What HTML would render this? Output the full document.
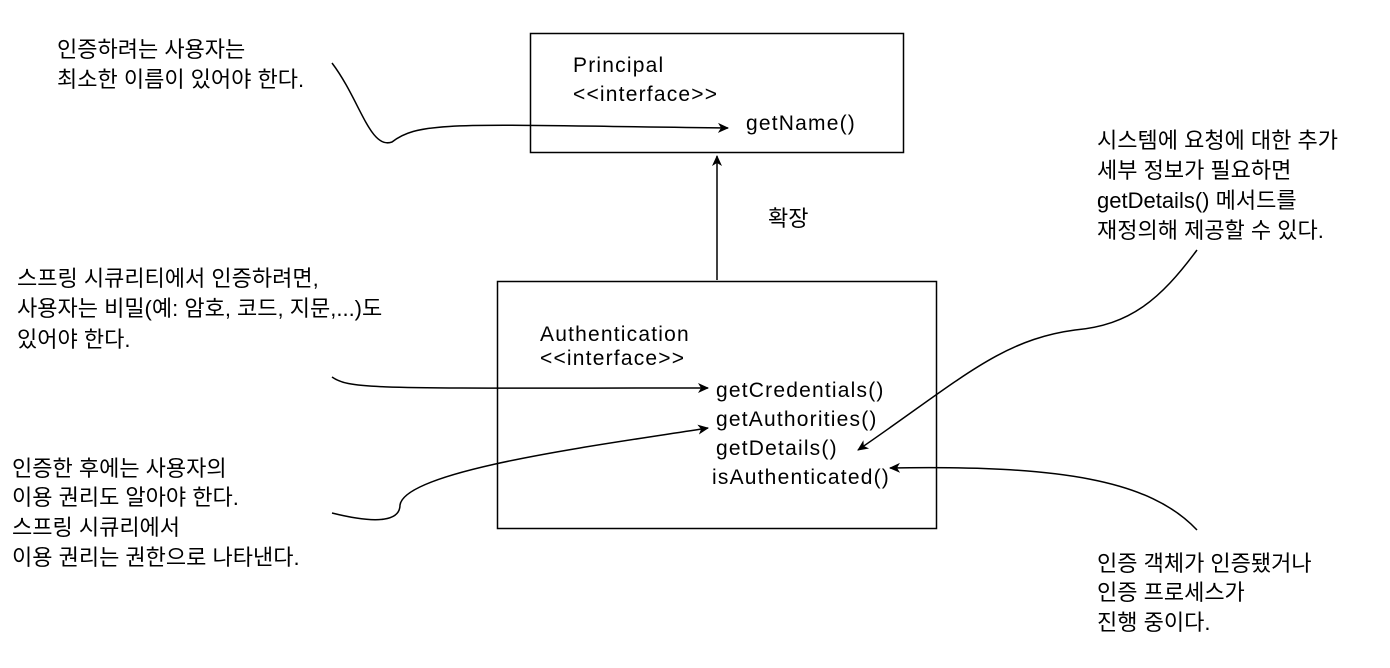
<!DOCTYPE html>
<html><head><meta charset="utf-8"><style>
html,body{margin:0;padding:0;background:#fff;}
svg{display:block;}
text{font-family:"Liberation Sans","Noto Sans CJK KR",sans-serif;font-size:22px;fill:#000;}
text.en{font-size:21px;letter-spacing:1.2px;}
</style></head><body>
<svg width="1390" height="668" viewBox="0 0 1390 668" xmlns="http://www.w3.org/2000/svg">
<defs><marker id="a" markerWidth="12" markerHeight="12" refX="10" refY="6" orient="auto" markerUnits="userSpaceOnUse"><path d="M0,1 L11,6 L0,11 L3,6 Z" fill="#000"/></marker></defs>
<rect x="530.5" y="33.5" width="373" height="119" fill="#fff" stroke="#000" stroke-width="1.5"/>
<text class="en" x="573" y="72">Principal</text>
<text class="en" x="573" y="101">&lt;&lt;interface&gt;&gt;</text>
<text class="en" x="746" y="130">getName()</text>
<rect x="497.5" y="281.5" width="439" height="247" fill="#fff" stroke="#000" stroke-width="1.5"/>
<text class="en" x="540" y="341">Authentication</text>
<text class="en" x="540" y="365">&lt;&lt;interface&gt;&gt;</text>
<text class="en" x="716" y="397">getCredentials()</text>
<text class="en" x="716" y="426">getAuthorities()</text>
<text class="en" x="716" y="455">getDetails()</text>
<text class="en" x="712" y="484">isAuthenticated()</text>
<line x1="717" y1="280" x2="717" y2="156" stroke="#000" stroke-width="1.5" marker-end="url(#a)"/>
<text x="768" y="226">확장</text>
<g fill="none" stroke="#000" stroke-width="1.5">
<path d="M332,63 C360,100 370,150 392,142 C420,120 460,125 728,128" marker-end="url(#a)"/>
<path d="M332,377 C350,390 380,388 708,388" marker-end="url(#a)"/>
<path d="M332,513 C380,525 400,520 400,505 C405,470 600,445 708,428" marker-end="url(#a)"/>
<path d="M1197,250 C1160,300 1130,325 1075,330 C1000,340 960,380 858,450" marker-end="url(#a)"/>
<path d="M1197,530 C1150,480 1060,465 890,468" marker-end="url(#a)"/>
</g>
<text x="57" y="57">인증하려는 사용자는</text>
<text x="57" y="87">최소한 이름이 있어야 한다.</text>
<text x="17" y="286">스프링 시큐리티에서 인증하려면,</text>
<text x="17" y="316">사용자는 비밀(예: 암호, 코드, 지문,...)도</text>
<text x="17" y="347">있어야 한다.</text>
<text x="12" y="476">인증한 후에는 사용자의</text>
<text x="12" y="505">이용 권리도 알아야 한다.</text>
<text x="12" y="535">스프링 시큐리에서</text>
<text x="12" y="565">이용 권리는 권한으로 나타낸다.</text>
<text x="1097" y="148">시스템에 요청에 대한 추가</text>
<text x="1097" y="178">세부 정보가 필요하면</text>
<text x="1097" y="208">getDetails() 메서드를</text>
<text x="1097" y="238">재정의해 제공할 수 있다.</text>
<text x="1097" y="571">인증 객체가 인증됐거나</text>
<text x="1097" y="600">인증 프로세스가</text>
<text x="1097" y="630">진행 중이다.</text>
</svg>
</body></html>
